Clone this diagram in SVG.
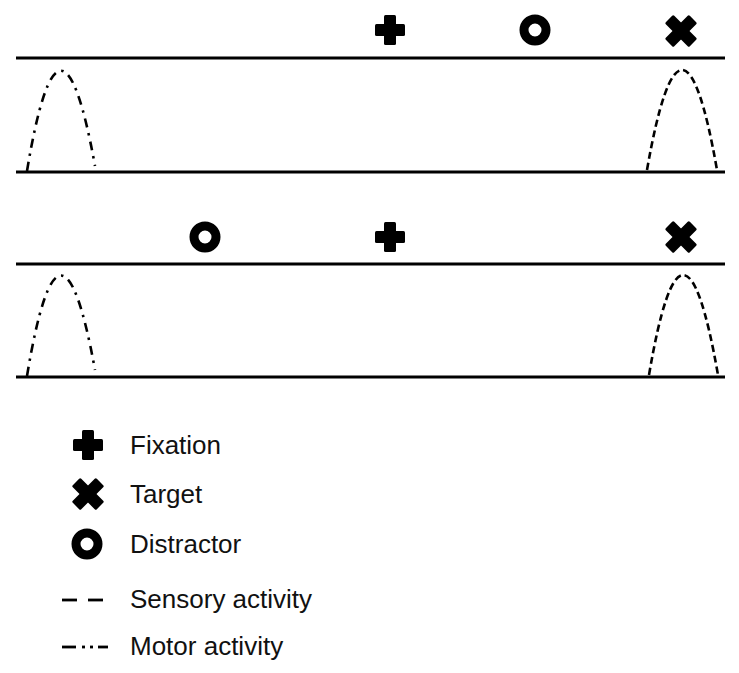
<svg xmlns="http://www.w3.org/2000/svg" xmlns:xlink="http://www.w3.org/1999/xlink" width="739" height="673" viewBox="0 0 739 673">
<style>
.axis{stroke:#000;stroke-width:2.8;fill:none}
.sensory{stroke:#000;stroke-width:2.6;fill:none;stroke-dasharray:7 4}
.motor{stroke:#000;stroke-width:2.6;fill:none;stroke-dasharray:9 6 2.5 6}
.lbl{font-family:"Liberation Sans",Arial,sans-serif;font-size:26px;fill:#111}
</style>
<defs>
<g id="plus"><rect x="-15" y="-6" width="30" height="12" rx="1.5"/><rect x="-6" y="-15" width="12" height="30" rx="1.5"/></g>
<g id="cross"><g transform="rotate(45)"><rect x="-17" y="-6" width="34" height="12" rx="1.5"/><rect x="-6" y="-17" width="12" height="34" rx="1.5"/></g></g>
<g id="ring"><circle r="11" fill="none" stroke="#000" stroke-width="9"/></g>
</defs>
<rect width="739" height="673" fill="#fff"/>
<g id="connectors">
<line class="axis" x1="16" y1="58" x2="725" y2="58"/>
<line class="axis" x1="16" y1="172" x2="725" y2="172"/>
<line class="axis" x1="16" y1="264" x2="725" y2="264"/>
<line class="axis" x1="16" y1="377" x2="725" y2="377"/>
<path class="motor" d="M27,171 Q60,-27 95,166"/>
<path class="sensory" d="M647,170 Q682,-30 717,170"/>
<path class="motor" d="M27,376 Q60,178 95,370"/>
<path class="sensory" d="M649,375 Q683,175 718,375"/>
</g>
<g id="panel1-fixation"><use xlink:href="#plus" x="390" y="30"/></g>
<g id="panel1-distractor"><use xlink:href="#ring" x="535" y="30"/></g>
<g id="panel1-target"><use xlink:href="#cross" x="681" y="31"/></g>
<g id="panel2-distractor"><use xlink:href="#ring" x="205" y="237"/></g>
<g id="panel2-fixation"><use xlink:href="#plus" x="390" y="237"/></g>
<g id="panel2-target"><use xlink:href="#cross" x="681" y="237"/></g>
<g id="legend">
<use xlink:href="#plus" x="88" y="445"/>
<text class="lbl" x="130" y="454">Fixation</text>
<use xlink:href="#cross" x="88" y="494"/>
<text class="lbl" x="130" y="503">Target</text>
<use xlink:href="#ring" x="87" y="544"/>
<text class="lbl" x="130" y="553">Distractor</text>
<line class="axis" x1="62" y1="600" x2="77" y2="600"/>
<line class="axis" x1="88" y1="600" x2="103" y2="600"/>
<text class="lbl" x="130" y="608">Sensory activity</text>
<line class="axis" x1="62" y1="647" x2="76" y2="647"/>
<line class="axis" x1="82" y1="647" x2="85" y2="647"/>
<line class="axis" x1="90" y1="647" x2="93" y2="647"/>
<line class="axis" x1="98" y1="647" x2="108" y2="647"/>
<text class="lbl" x="130" y="655">Motor activity</text>
</g>
</svg>
